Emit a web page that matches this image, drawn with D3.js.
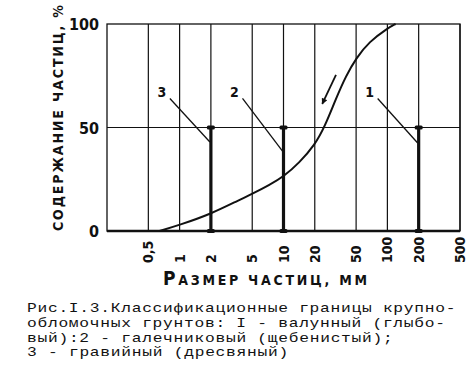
<!DOCTYPE html>
<html>
<head>
<meta charset="utf-8">
<script src="https://cdn.jsdelivr.net/npm/d3@7"></script>
<style>
  body { margin: 0; background: #fff; }
  svg { display: block; }
</style>
</head>
<body>
<script>
const width = 475;
const height = 375;

// grain sizes on the axis, mm
const sizeTicks = [0.5, 1, 2, 5, 10, 20, 50, 100, 200, 500];
const sizeLabels = ["0,5", "1", "2", "5", "10", "20", "50", "100", "200", "500"];
const pctTicks = [0, 50, 100];

// grading curve
const curveSize = [0.64, 1, 2, 3.75, 5, 7.3, 10, 14.2, 20, 25, 32, 40, 50, 67, 100, 120];
const curvePct  = [0, 2.9, 8.2, 15, 17.9, 22.2, 26.2, 33, 41.5, 50.5, 64, 75, 83.5, 91.5, 97.9, 100];

// classification boundaries 1, 2, 3
const boundSize  = [200, 10, 2];
const boundNames = ["1", "2", "3"];
const boundTop   = [50, 50, 50];
const leaderEnd  = [42.5, 38.6, 43];
const leaderFrom = [65, 65, 65];

const caption = [
  "Рис.I.3.Классификационные границы крупно-",
  "обломочных грунтов: I - валунный (глыбо-",
  "вый):2 - галечниковый (щебенистый);",
  "3 - гравийный (дресвяный)"
];

const margin = {left: 107, right: 15, top: 24, bottom: 144};

let svg = d3.select('body').append('svg')
            .attr('width', width)
            .attr('height', height);

const x = d3.scaleLog()
            .domain([0.2, 500])
            .range([margin.left, width - margin.right]);
const y = d3.scaleLinear()
            .domain([0, 100])
            .range([height - margin.bottom, margin.top]);

const ink = '#111';

// vertical grid
svg.selectAll('line.vgrid')
    .data(sizeTicks)
    .enter()
    .append('line')
    .attr('class', 'vgrid')
    .attr('x1', d => x(d)).attr('x2', d => x(d))
    .attr('y1', y(0)).attr('y2', y(100))
    .attr('stroke', ink)
    .attr('stroke-width', 1.2);

// 50% line
svg.append('line')
    .attr('x1', x(0.2)).attr('x2', x(500))
    .attr('y1', y(50)).attr('y2', y(50))
    .attr('stroke', ink).attr('stroke-width', 1.2);

// frame
svg.append('rect')
    .attr('x', x(0.2)).attr('y', y(100))
    .attr('width', x(500) - x(0.2))
    .attr('height', y(0) - y(100))
    .attr('fill', 'none')
    .attr('stroke', ink)
    .attr('stroke-width', 1.3);
svg.append('line')
    .attr('x1', x(0.2)).attr('x2', x(500))
    .attr('y1', y(0)).attr('y2', y(0))
    .attr('stroke', ink).attr('stroke-width', 2.4);

// y tick labels
svg.selectAll('text.ytick')
    .data(pctTicks)
    .enter()
    .append('text')
    .attr('class', 'ytick')
    .attr('x', 99)
    .attr('y', d => y(d) + 6)
    .attr('text-anchor', 'end')
    .style('font-family', '"DejaVu Sans Condensed", "DejaVu Sans"')
    .style('font-weight', 'bold')
    .style('font-size', '16px')
    .attr('fill', ink)
    .text(d => d);

// x tick labels (rotated)
svg.selectAll('text.xtick')
    .data(sizeTicks)
    .enter()
    .append('text')
    .attr('class', 'xtick')
    .attr('transform', d => `translate(${x(d) + 5},263) rotate(-90)`)
    .attr('text-anchor', 'start')
    .style('font-family', '"DejaVu Sans Condensed", "DejaVu Sans"')
    .style('font-weight', 'bold')
    .style('font-size', '14px')
    .attr('fill', ink)
    .text((d, i) => sizeLabels[i]);

// axis titles
svg.append('text')
    .attr('transform', 'translate(63,231) rotate(-90)')
    .attr('textLength', 226)
    .attr('lengthAdjust', 'spacing')
    .style('font-family', '"DejaVu Sans Condensed", "DejaVu Sans"')
    .style('font-weight', 'bold')
    .style('font-size', '14px')
    .attr('fill', ink)
    .text('СОДЕРЖАНИЕ ЧАСТИЦ, %');

let xt = svg.append('text')
    .attr('x', 163)
    .attr('y', 285)
    .attr('textLength', 204)
    .attr('lengthAdjust', 'spacing')
    .style('font-family', '"DejaVu Sans Condensed", "DejaVu Sans"')
    .style('font-weight', 'bold')
    .attr('fill', ink);
xt.append('tspan').style('font-size', '19px').text('Р');
xt.append('tspan').style('font-size', '14px').text('АЗМЕР ЧАСТИЦ, ММ');

// grading curve
const curveData = curveSize.map((d, i) => [d, curvePct[i]]);
svg.append('path')
    .datum(curveData)
    .attr('d', d3.line()
        .x(d => x(d[0]))
        .y(d => y(d[1]))
        .curve(d3.curveBasis))
    .attr('fill', 'none')
    .attr('stroke', ink)
    .attr('stroke-width', 2);

// direction arrow along the curve
const arrowFrom = [32, 75.4];
const arrowTo = [23.6, 61.4];
svg.append('defs').append('marker')
    .attr('id', 'head')
    .attr('viewBox', '0 0 10 10')
    .attr('refX', 9).attr('refY', 5)
    .attr('markerWidth', 13).attr('markerHeight', 6)
    .attr('markerUnits', 'userSpaceOnUse')
    .attr('orient', 'auto')
    .append('path')
    .attr('d', 'M0,0 L10,5 L0,10 Z')
    .attr('fill', ink);
svg.append('line')
    .attr('x1', x(arrowFrom[0])).attr('y1', y(arrowFrom[1]))
    .attr('x2', x(arrowTo[0])).attr('y2', y(arrowTo[1]))
    .attr('stroke', ink).attr('stroke-width', 1.8)
    .attr('marker-end', 'url(#head)');

// boundary bars
svg.selectAll('line.bound')
    .data(boundSize)
    .enter()
    .append('line')
    .attr('class', 'bound')
    .attr('x1', d => x(d)).attr('x2', d => x(d))
    .attr('y1', y(0)).attr('y2', (d, i) => y(boundTop[i]))
    .attr('stroke', ink)
    .attr('stroke-width', 3.2);

boundSize.forEach((d, i) => {
    [0, boundTop[i]].forEach(p => {
        svg.append('rect')
            .attr('x', x(d) - 4).attr('y', y(p) - 2)
            .attr('width', 8).attr('height', 4)
            .attr('rx', 1.5)
            .attr('fill', ink);
    });
});

// leaders and numbers
svg.selectAll('line.leader')
    .data(boundSize)
    .enter()
    .append('line')
    .attr('class', 'leader')
    .attr('x1', d => x(d) - 41)
    .attr('y1', (d, i) => y(leaderFrom[i]) + 2)
    .attr('x2', d => x(d) - 1)
    .attr('y2', (d, i) => y(leaderEnd[i]))
    .attr('stroke', ink)
    .attr('stroke-width', 1.3);

svg.selectAll('text.bname')
    .data(boundSize)
    .enter()
    .append('text')
    .attr('class', 'bname')
    .attr('x', d => x(d) - 49)
    .attr('y', (d, i) => y(leaderFrom[i]) + 1)
    .attr('text-anchor', 'middle')
    .style('font-family', '"DejaVu Sans Condensed", "DejaVu Sans"')
    .style('font-weight', 'bold')
    .style('font-size', '14px')
    .attr('fill', ink)
    .text((d, i) => boundNames[i]);

// caption, typewriter style
const capY = [312, 326.8, 341.6, 356.4];
const pitch = 10.45, stretch = 1.25;
svg.selectAll('text.cap')
    .data(caption)
    .enter()
    .append('text')
    .attr('class', 'cap')
    .attr('transform', (d, i) => `translate(27,${capY[i]}) scale(${stretch},1)`)
    .attr('textLength', d => d.length * pitch / stretch)
    .attr('lengthAdjust', 'spacing')
    .style('font-family', '"Liberation Mono", "DejaVu Sans Mono", monospace')
    .style('font-size', '13px')
    .attr('fill', ink)
    .text(d => d);
</script>
</body>
</html>
